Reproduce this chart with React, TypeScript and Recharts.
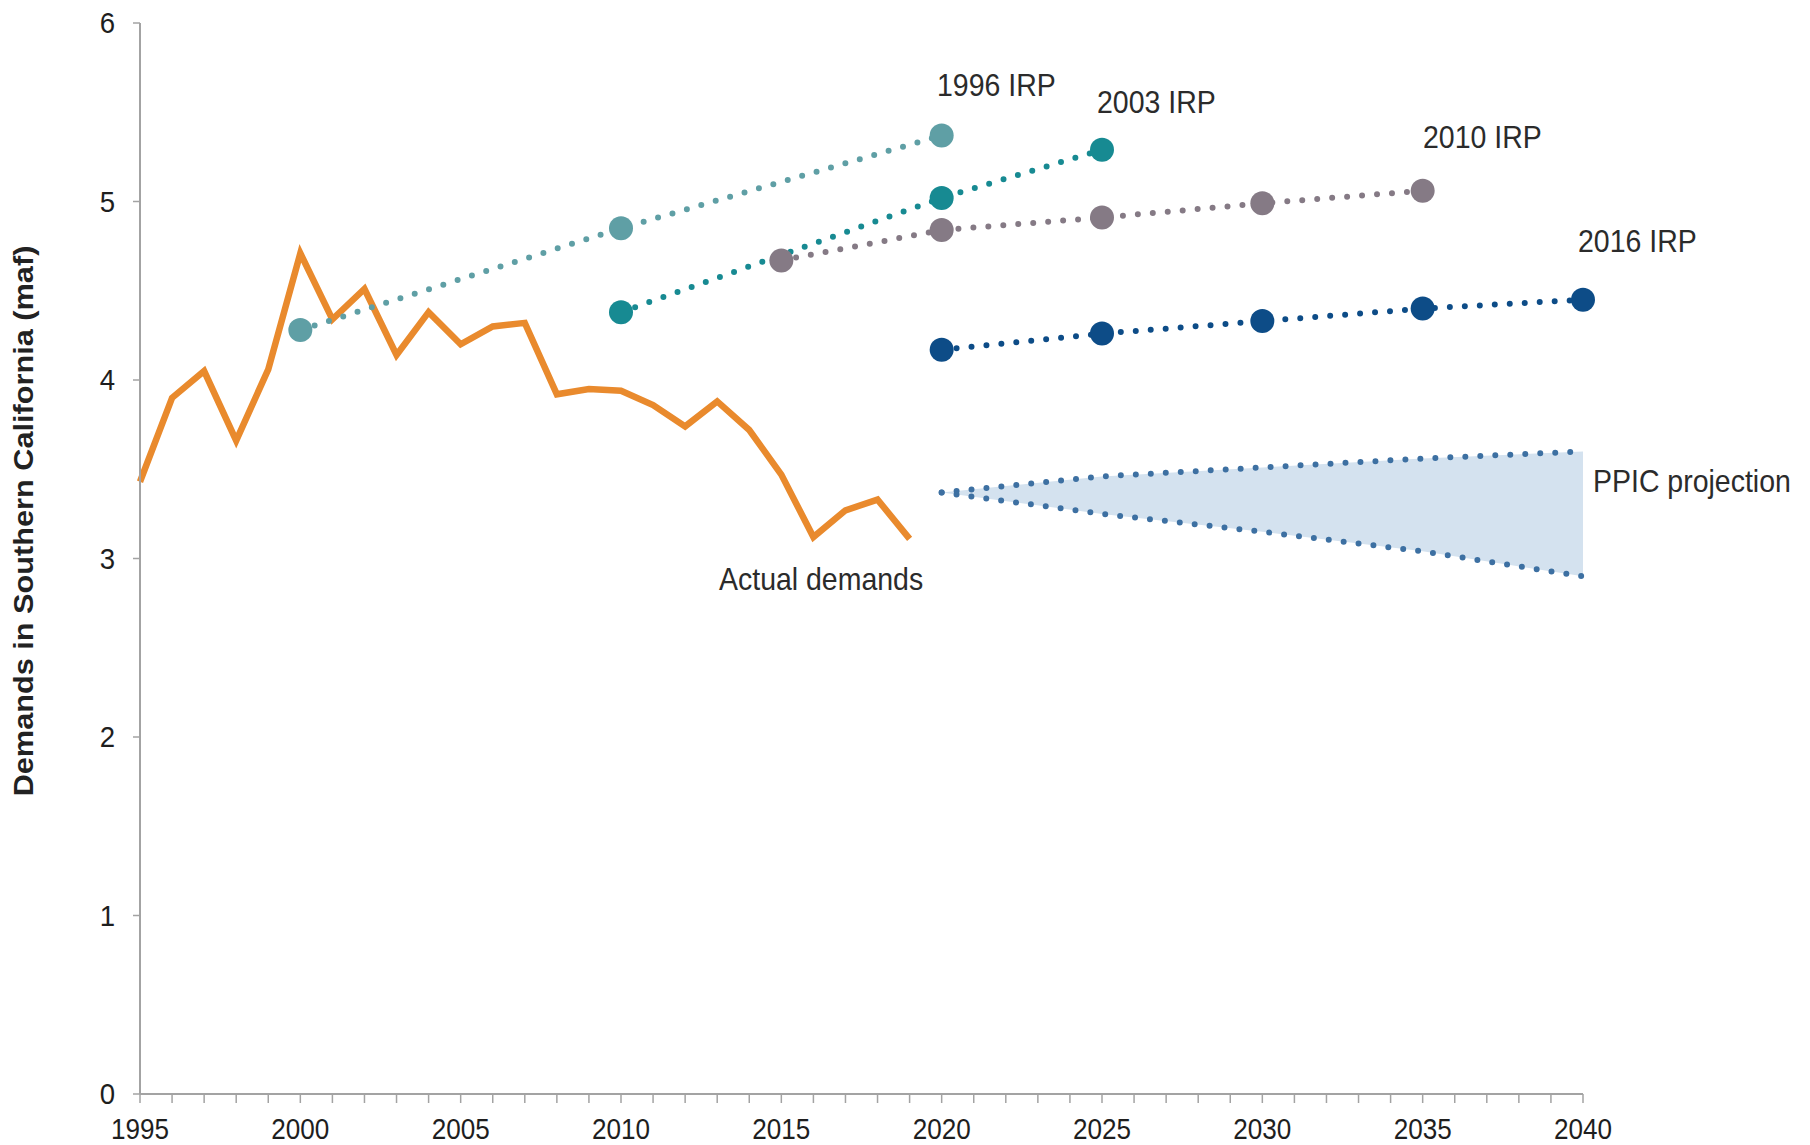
import React from "react";
import { ComposedChart, Line, Area, XAxis, YAxis, Customized } from "recharts";

// actual demands, 1995-2019 (maf)
const actualYears = [
  1995, 1996, 1997, 1998, 1999, 2000, 2001, 2002, 2003, 2004, 2005, 2006, 2007,
  2008, 2009, 2010, 2011, 2012, 2013, 2014, 2015, 2016, 2017, 2018, 2019,
];
const actualDemand = [
  3.43, 3.9, 4.05, 3.66, 4.06, 4.71, 4.34, 4.51, 4.14, 4.38, 4.2, 4.3, 4.32,
  3.92, 3.95, 3.94, 3.86, 3.74, 3.88, 3.72, 3.47, 3.12, 3.27, 3.33, 3.11,
];

// IRP projections
const irp1996Years = [2000, 2010, 2020];
const irp1996 = [4.28, 4.85, 5.37];
const irp2003Years = [2010, 2020, 2025];
const irp2003 = [4.38, 5.02, 5.29];
const irp2010Years = [2015, 2020, 2025, 2030, 2035];
const irp2010 = [4.67, 4.84, 4.91, 4.99, 5.06];
const irp2016Years = [2020, 2025, 2030, 2035, 2040];
const irp2016 = [4.17, 4.26, 4.33, 4.4, 4.45];

// PPIC projection band
const ppicYears = [2020, 2025, 2030, 2035, 2040];
const ppicHigh = [3.37, 3.46, 3.51, 3.56, 3.6];
const ppicLow = [3.37, 3.25, 3.15, 3.04, 2.9];

const xTicks = Array.from({ length: 46 }, (_, i) => 1995 + i);
const yTicks = [0, 1, 2, 3, 4, 5, 6];

const allYears = Array.from(
  new Set([...actualYears, ...irp1996Years, ...irp2003Years, ...irp2010Years, ...irp2016Years, ...ppicYears])
).sort((a, b) => a - b);

const pick = (xs: number[], ys: number[], year: number) => {
  const i = xs.indexOf(year);
  return i < 0 ? null : ys[i];
};

const rows = allYears.map((year) => ({
  year,
  actual: pick(actualYears, actualDemand, year),
  irp1996: pick(irp1996Years, irp1996, year),
  irp2003: pick(irp2003Years, irp2003, year),
  irp2010: pick(irp2010Years, irp2010, year),
  irp2016: pick(irp2016Years, irp2016, year),
  ppicHigh: pick(ppicYears, ppicHigh, year),
  ppicLow: pick(ppicYears, ppicLow, year),
}));

const FONT = "'Liberation Sans', Arial, Helvetica, sans-serif";
const AXIS = "#a3a3a3";
const TEXT = "#2b2b2b";

const C1996 = "#5f9fa5";
const C2003 = "#178a92";
const C2010 = "#857a85";
const C2016 = "#0d4c87";
const CPPIC = "#3d70a2";

function XTick(props: any) {
  const { x, y, payload } = props;
  if (payload.value % 5 !== 0) return <g />;
  return (
    <text
      transform={`translate(${x},${y + 34}) scale(0.9,1)`}
      textAnchor="middle"
      fontSize={29}
      fontFamily={FONT}
      fill="#1e1e1e"
    >
      {payload.value}
    </text>
  );
}

function YTick(props: any) {
  const { x, y, payload } = props;
  return (
    <text
      transform={`translate(${x},${y + 10}) scale(0.92,1)`}
      textAnchor="end"
      fontSize={30}
      fontFamily={FONT}
      fill="#1e1e1e"
    >
      {payload.value}
    </text>
  );
}

function Note({ x, y, children }: { x: number; y: number; children: string }) {
  return (
    <text transform={`translate(${x},${y}) scale(0.89,1)`} fontSize={32} fontFamily={FONT} fill={TEXT}>
      {children}
    </text>
  );
}

function Annotations() {
  return (
    <g>
      <text
        transform="translate(33,521) scale(0.88,1) rotate(-90)"
        textAnchor="middle"
        fontSize={30.7}
        fontWeight="bold"
        fontFamily={FONT}
        fill="#222"
      >
        Demands in Southern California (maf)
      </text>
      <Note x={937} y={96}>1996 IRP</Note>
      <Note x={1097} y={113}>2003 IRP</Note>
      <Note x={1423} y={148}>2010 IRP</Note>
      <Note x={1578} y={252}>2016 IRP</Note>
      <Note x={1593} y={492}>PPIC projection</Note>
      <Note x={719} y={590}>Actual demands</Note>
    </g>
  );
}

const dotted = { strokeDasharray: "0 15", strokeLinecap: "round" as const, strokeWidth: 6 };

export default function App() {
  return (
    <div style={{ position: "absolute", left: 0, top: 0, background: "#fff" }}>
      <ComposedChart
        width={1810}
        height={1145}
        data={rows}
        margin={{ top: 23, right: 227, bottom: 0, left: 0 }}
      >
        <XAxis
          dataKey="year"
          type="number"
          domain={[1995, 2040]}
          ticks={xTicks}
          interval={0}
          height={51}
          tickSize={9}
          tickMargin={2}
          tick={<XTick />}
          axisLine={{ stroke: AXIS, strokeWidth: 2 }}
          tickLine={{ stroke: AXIS, strokeWidth: 1.5 }}
        />
        <YAxis
          type="number"
          domain={[0, 6]}
          ticks={yTicks}
          interval={0}
          width={140}
          tickSize={7}
          tickMargin={18}
          tick={<YTick />}
          axisLine={{ stroke: AXIS, strokeWidth: 2 }}
          tickLine={{ stroke: AXIS, strokeWidth: 1.5 }}
        />
        <Area
          dataKey={(r: any) => (r.ppicLow == null ? null : [r.ppicLow, r.ppicHigh])}
          connectNulls
          fill="#d4e2ef"
          fillOpacity={1}
          stroke="none"
          isAnimationActive={false}
          activeDot={false}
        />
        <Line
          dataKey="actual"
          stroke="#e98a2d"
          strokeWidth={6.5}
          strokeLinejoin="miter"
          dot={false}
          activeDot={false}
          connectNulls
          isAnimationActive={false}
        />
        <Line dataKey="ppicHigh" stroke={CPPIC} {...dotted} dot={false} activeDot={false} connectNulls isAnimationActive={false} />
        <Line dataKey="ppicLow" stroke={CPPIC} {...dotted} dot={false} activeDot={false} connectNulls isAnimationActive={false} />
        <Line
          dataKey="irp2016"
          stroke={C2016}
          {...dotted}
          dot={{ r: 12, fill: C2016, stroke: "none", strokeDasharray: "" }}
          activeDot={false}
          connectNulls
          isAnimationActive={false}
        />
        <Line
          dataKey="irp2010"
          stroke={C2010}
          {...dotted}
          dot={{ r: 12, fill: C2010, stroke: "none", strokeDasharray: "" }}
          activeDot={false}
          connectNulls
          isAnimationActive={false}
        />
        <Line
          dataKey="irp2003"
          stroke={C2003}
          {...dotted}
          dot={{ r: 12, fill: C2003, stroke: "none", strokeDasharray: "" }}
          activeDot={false}
          connectNulls
          isAnimationActive={false}
        />
        <Line
          dataKey="irp1996"
          stroke={C1996}
          {...dotted}
          dot={{ r: 12, fill: C1996, stroke: "none", strokeDasharray: "" }}
          activeDot={false}
          connectNulls
          isAnimationActive={false}
        />
        <Customized component={Annotations} />
      </ComposedChart>
    </div>
  );
}
